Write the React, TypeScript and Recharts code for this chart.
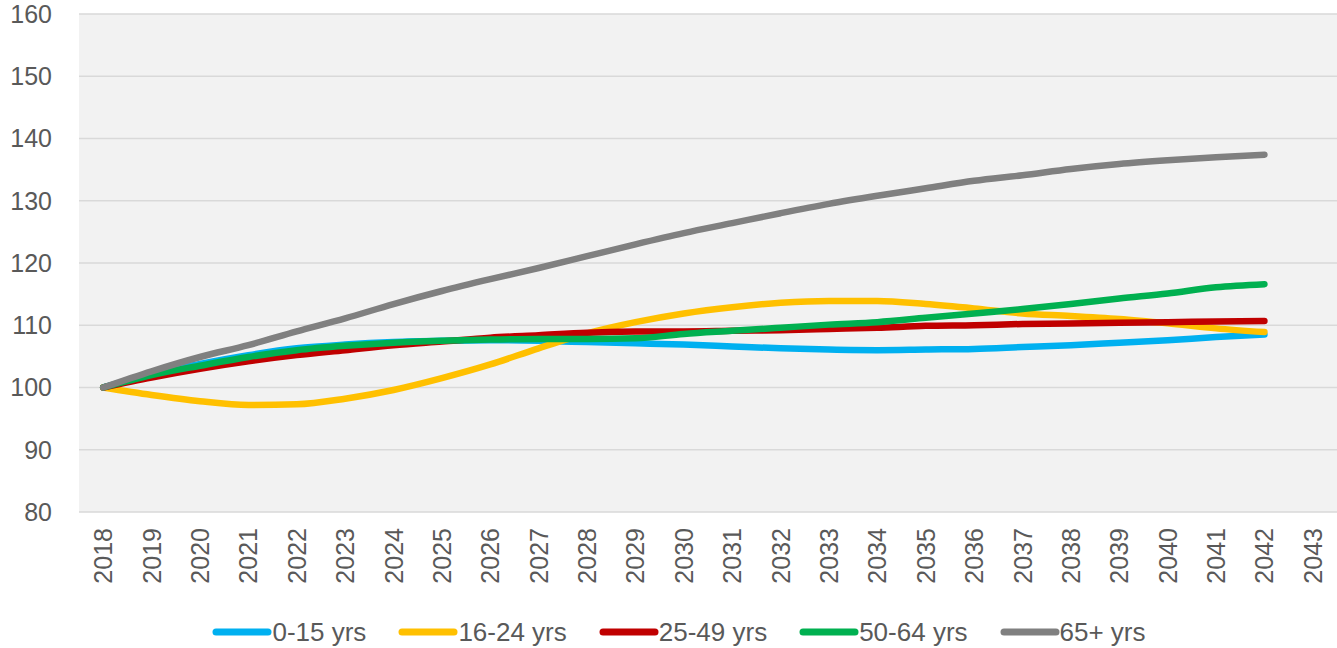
import React from 'react';
import { LineChart, Line, XAxis, YAxis, CartesianGrid, Legend } from 'recharts';

const years = ['2018','2019','2020','2021','2022','2023','2024','2025','2026','2027','2028','2029','2030','2031','2032','2033','2034','2035','2036','2037','2038','2039','2040','2041','2042','2043'];
const age0to15 = [100,102.2,103.8,105.2,106.3,106.9,107.3,107.5,107.6,107.5,107.3,107.1,106.9,106.6,106.3,106.1,106.0,106.1,106.2,106.5,106.8,107.2,107.6,108.1,108.5];
const age16to24 = [100,98.8,97.8,97.2,97.3,98.2,99.6,101.5,103.7,106.3,108.7,110.5,111.9,112.9,113.6,113.9,113.9,113.4,112.7,111.9,111.5,111.0,110.3,109.5,108.9];
const age25to49 = [100,101.6,103.0,104.2,105.2,106.0,106.8,107.4,108.0,108.4,108.8,109.0,109.0,109.1,109.2,109.4,109.6,109.9,110.0,110.2,110.3,110.4,110.5,110.6,110.7];
const age50to64 = [100,102.0,103.5,104.9,106.0,106.7,107.2,107.5,107.7,107.8,107.8,107.9,108.6,109.1,109.6,110.1,110.5,111.2,111.9,112.6,113.4,114.3,115.1,116.1,116.6];
const age65plus = [100,102.6,104.9,106.8,109.0,111.1,113.4,115.5,117.4,119.2,121.1,123.0,124.8,126.4,128.0,129.5,130.8,132.0,133.2,134.1,135.1,135.9,136.5,137.0,137.4];
const yTicks = [80,90,100,110,120,130,140,150,160];

const seriesDefs = [
  { key: 'a', name: '0-15 yrs', color: '#00B0F0', values: age0to15 },
  { key: 'b', name: '16-24 yrs', color: '#FFC000', values: age16to24 },
  { key: 'c', name: '25-49 yrs', color: '#C00000', values: age25to49 },
  { key: 'd', name: '50-64 yrs', color: '#00B050', values: age50to64 },
  { key: 'e', name: '65+ yrs', color: '#808080', values: age65plus },
];

const data = years.map((year, i) => {
  const row: Record<string, any> = { year };
  seriesDefs.forEach(s => { row[s.key] = s.values[i]; });
  return row;
});

const FONT = '"Liberation Sans", Arial, sans-serif';
const TEXT = '#595959';

const XTick = (props: any) => {
  const { x, y, payload } = props;
  return (
    <text
      x={x}
      y={y}
      transform={`rotate(-90, ${x}, ${y})`}
      textAnchor="end"
      dominantBaseline="central"
      fill={TEXT}
      fontSize={25}
      fontFamily={FONT}
    >
      {payload.value}
    </text>
  );
};

const LegendContent = () => (
  <div
    style={{
      height: 56,
      paddingTop: 24,
      paddingLeft: 53,
      boxSizing: 'border-box',
      display: 'flex',
      justifyContent: 'center',
      alignItems: 'center',
      fontFamily: FONT,
      fontSize: 26,
      color: TEXT,
    }}
  >
    {seriesDefs.map(s => (
      <div key={s.key} style={{ display: 'flex', alignItems: 'center', marginRight: 32, height: 32 }}>
        <svg width={60} height={12}>
          <line x1={4} y1={6} x2={56} y2={6} stroke={s.color} strokeWidth={7} strokeLinecap="round" />
        </svg>
        <span style={{ lineHeight: '32px', whiteSpace: 'nowrap' }}>{s.name}</span>
      </div>
    ))}
  </div>
);

export default function App() {
  return (
    <div style={{ position: 'absolute', left: 0, top: 0, width: 1337, height: 648, background: '#fff' }}>
      <LineChart width={1337} height={648} data={data} margin={{ top: 14, right: 0, left: 0, bottom: 0 }}>
        <CartesianGrid vertical={false} fill="#F2F2F2" stroke="#D9D9D9" strokeWidth={1.5} />
        <XAxis
          dataKey="year"
          scale="band"
          axisLine={false}
          tickLine={false}
          tickSize={0}
          tickMargin={16}
          height={80}
          interval={0}
          tick={<XTick />}
        />
        <YAxis
          domain={[80, 160]}
          ticks={yTicks}
          width={79}
          axisLine={false}
          tickLine={false}
          tickSize={0}
          tickMargin={27}
          interval={0}
          tick={{ fill: TEXT, fontSize: 25, fontFamily: FONT }}
        />
        <Legend verticalAlign="bottom" content={<LegendContent />} />
        {seriesDefs.map(s => (
          <Line
            key={s.key}
            dataKey={s.key}
            name={s.name}
            stroke={s.color}
            strokeWidth={6.5}
            strokeLinecap="round"
            strokeLinejoin="round"
            dot={false}
            activeDot={false}
            type="monotone"
            isAnimationActive={false}
          />
        ))}
      </LineChart>
    </div>
  );
}
